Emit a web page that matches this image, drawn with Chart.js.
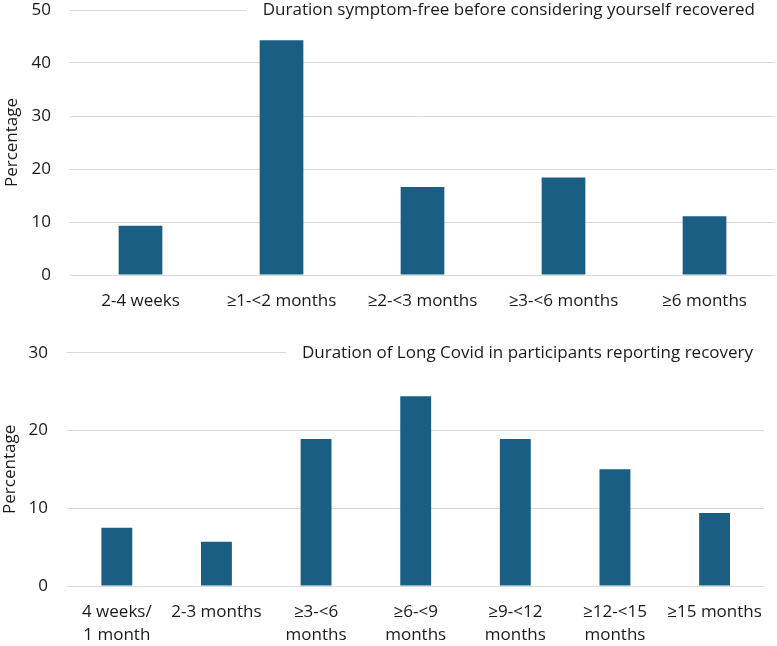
<!DOCTYPE html>
<html>
<head>
<meta charset="utf-8">
<script src="https://cdn.jsdelivr.net/npm/chart.js@4"></script>
<style>
  body { margin: 0; background: #fff; width: 777px; height: 646px; overflow: hidden; position: relative; }
  canvas { position: absolute; left: 0; }
</style>
</head>
<body>
<canvas id="topChart" width="777" height="318" style="top:0"></canvas>
<canvas id="bottomChart" width="777" height="326" style="top:320px"></canvas>
<script>
// top panel
const topTitle = "Duration symptom-free before considering yourself recovered";
const topLabels = ["2-4 weeks", "\u22651-<2 months", "\u22652-<3 months", "\u22653-<6 months", "\u22656 months"];
const topValues = [9.3, 44.3, 16.6, 18.4, 11.1];
const topTicks = [0, 10, 20, 30, 40, 50];

// bottom panel
const bottomTitle = "Duration of Long Covid in participants reporting recovery";
const bottomLabels = [["4 weeks/", "1 month"], "2-3 months", ["\u22653-<6", "months"], ["\u22656-<9", "months"],
                      ["\u22659-<12", "months"], ["\u226512-<15", "months"], "\u226515 months"];
const bottomValues = [7.5, 5.7, 18.9, 24.4, 18.9, 15.0, 9.4];
const bottomTicks = [0, 10, 20, 30];

const FONT = "'Open Sans'";
const barColor = "#1a5f83";
const textColor = "#1a1a1a";
const gridColor = "#d9d9d9";

// draws the title over the top gridline, with a white box behind it
const insideTitle = {
    id: "insideTitle",
    afterDraw(chart, args, opts) {
        const ctx = chart.ctx;
        const y = chart.chartArea.top;
        ctx.save();
        ctx.font = "17px " + FONT;
        const w = ctx.measureText(opts.text).width;
        const x = opts.right - w;
        ctx.fillStyle = "#fff";
        ctx.fillRect(x - 16, y - 3, chart.width - x + 16, 6);
        ctx.fillStyle = textColor;
        ctx.textBaseline = "middle";
        ctx.fillText(opts.text, x, y);
        ctx.restore();
    }
};

function makeChart(id, labels, values, ticks, title, opt) {
    return new Chart(id, {
        type: "bar",
        data: {
            labels: labels,
            datasets: [{
                data: values,
                backgroundColor: barColor,
                categoryPercentage: 1,
                barPercentage: 0.31
            }]
        },
        options: {
            responsive: false,
            animation: false,
            devicePixelRatio: 1,
            layout: { padding: { top: 0, right: 2 } },
            plugins: {
                legend: { display: false },
                tooltip: { enabled: false },
                insideTitle: { text: title, right: opt.titleRight }
            },
            scales: {
                x: {
                    grid: { display: false, drawTicks: false },
                    border: { display: false },
                    ticks: { color: textColor, font: { family: FONT, size: 17, lineHeight: 1.35 }, padding: 15, maxRotation: 0, autoSkip: false },
                    afterFit(scale) { scale.height = opt.xHeight; }
                },
                y: {
                    min: ticks[0],
                    max: ticks[ticks.length - 1],
                    afterBuildTicks(scale) { scale.ticks = ticks.map(v => ({ value: v })); },
                    grid: { color: gridColor, lineWidth: 1, drawTicks: false },
                    border: { display: false },
                    ticks: { color: textColor, font: { family: FONT, size: 17 }, padding: 19 },
                    title: { display: true, text: "Percentage", color: textColor, font: { family: FONT, size: 17 }, padding: { top: opt.titlePad, bottom: 0 } },
                    afterFit(scale) {
                        scale.width = opt.yWidth;
                        scale.paddingTop = opt.areaTop;
                        scale.paddingBottom = 0;
                    }
                }
            }
        },
        plugins: [insideTitle]
    });
}

makeChart("topChart", topLabels, topValues, topTicks, topTitle,
    { areaTop: 10, xHeight: 43, yWidth: 70, titlePad: 1.5, titleRight: 755 });
makeChart("bottomChart", bottomLabels, bottomValues, bottomTicks, bottomTitle,
    { areaTop: 32.7, xHeight: 60, yWidth: 67, titlePad: 0, titleRight: 753 });
</script>
</body>
</html>
